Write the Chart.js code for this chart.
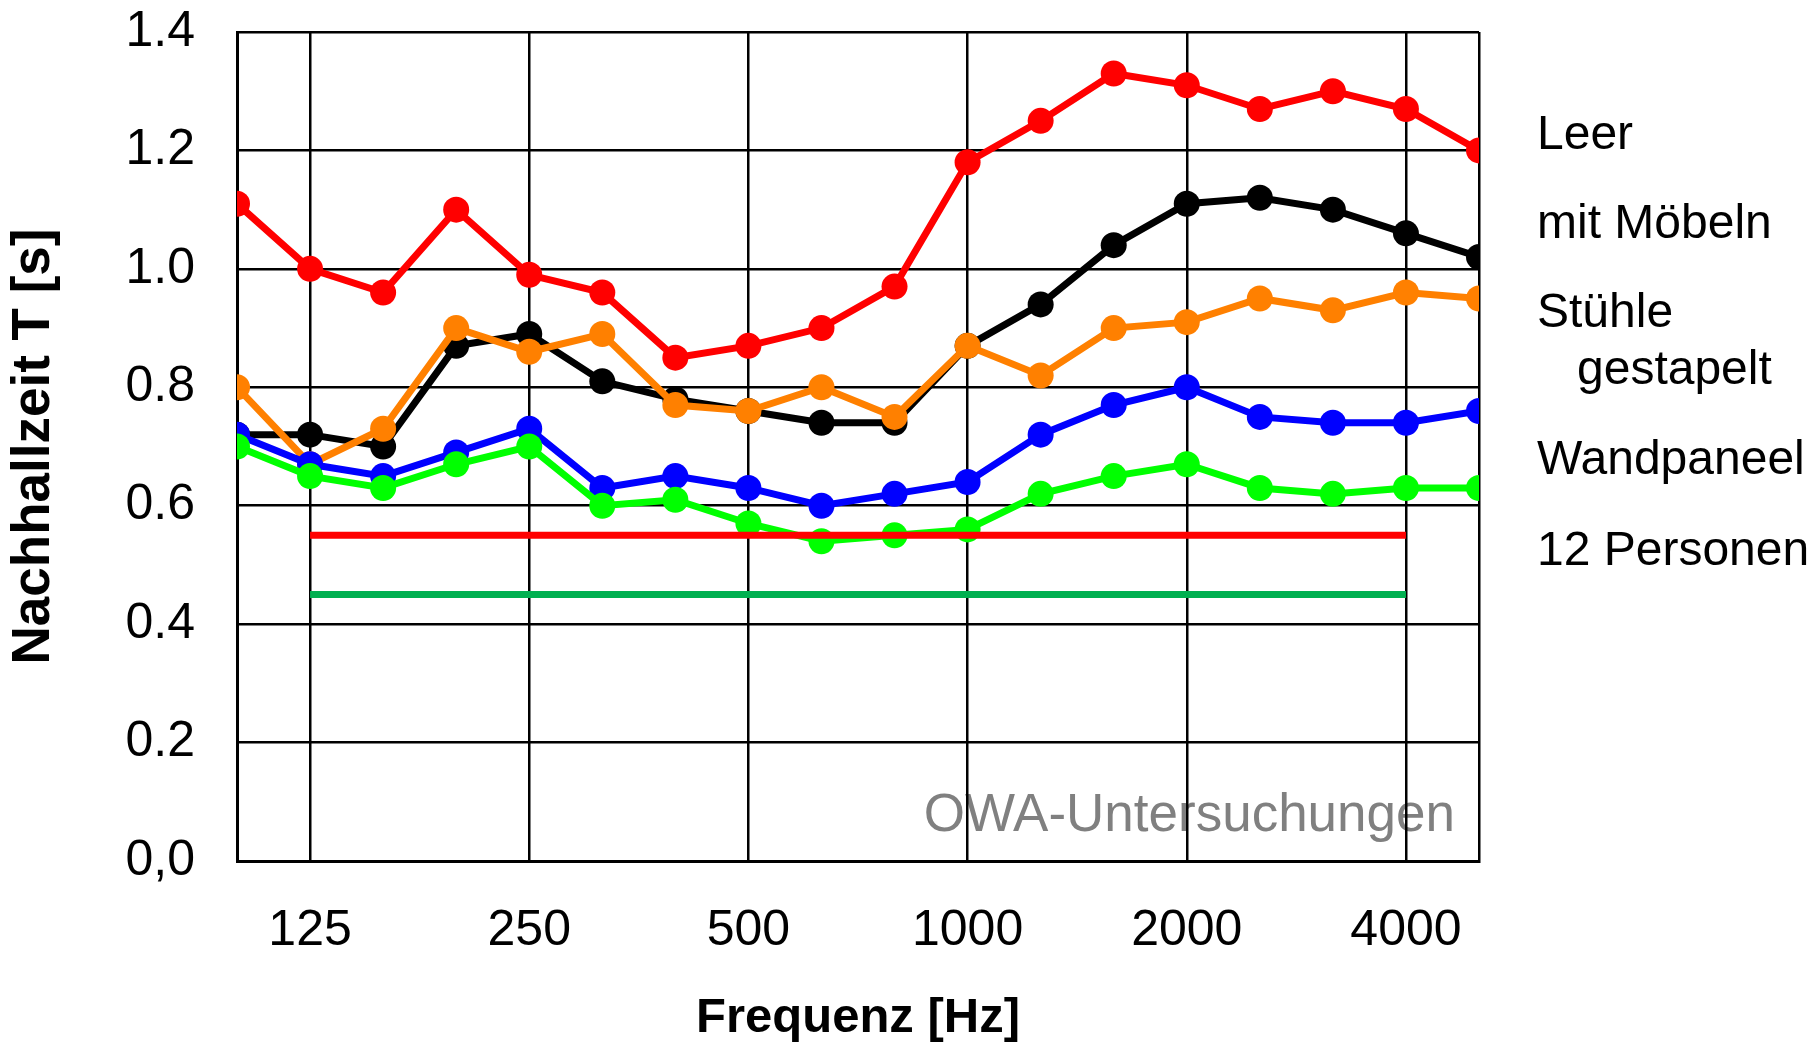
<!DOCTYPE html>
<html>
<head>
<meta charset="utf-8">
<title>Nachhallzeit</title>
<script src="https://cdn.jsdelivr.net/npm/chart.js@4.4.0/dist/chart.umd.min.js"></script>
<style>
  html, body { margin: 0; padding: 0; background: #fff; }
</style>
</head>
<body>
<canvas id="reverbChart" width="1816" height="1053"></canvas>
<script>
// Terzbänder, nur die Oktaven bekommen eine Beschriftung
const frequencies = ['100', '125', '160', '200', '250', '315', '400', '500', '630', '800',
                     '1000', '1250', '1600', '2000', '2500', '3150', '4000', '5000'];
const octaveLabels = ['125', '250', '500', '1000', '2000', '4000'];

// Nachhallzeit T [s]
const leer       = [1.11, 1.00, 0.96, 1.10, 0.99, 0.96, 0.85, 0.87, 0.90, 0.97, 1.18, 1.25, 1.33, 1.31, 1.27, 1.30, 1.27, 1.20];
const mitMoebeln = [0.72, 0.72, 0.70, 0.87, 0.89, 0.81, 0.78, 0.76, 0.74, 0.74, 0.87, 0.94, 1.04, 1.11, 1.12, 1.10, 1.06, 1.02];
const stuehle    = [0.80, 0.67, 0.73, 0.90, 0.86, 0.89, 0.77, 0.76, 0.80, 0.75, 0.87, 0.82, 0.90, 0.91, 0.95, 0.93, 0.96, 0.95];
const wandpaneel = [0.72, 0.67, 0.65, 0.69, 0.73, 0.63, 0.65, 0.63, 0.60, 0.62, 0.64, 0.72, 0.77, 0.80, 0.75, 0.74, 0.74, 0.76];
const personen   = [0.70, 0.65, 0.63, 0.67, 0.70, 0.60, 0.61, 0.57, 0.54, 0.55, 0.56, 0.62, 0.65, 0.67, 0.63, 0.62, 0.63, 0.63];

// Toleranzgrenzen (125 Hz bis 4000 Hz)
const upperLimit = 0.55;
const lowerLimit = 0.45;

const FONT = "'Liberation Sans', Arial, sans-serif";

function series(label, data, color, order) {
  return {
    label: label,
    data: data,
    borderColor: color,
    backgroundColor: color,
    borderWidth: 7,
    pointRadius: 13,
    pointHoverRadius: 13,
    pointBorderWidth: 0,
    tension: 0,
    clip: 0,
    order: order
  };
}

function limitLine(value, color) {
  return {
    label: '',
    data: [{ x: '125', y: value }, { x: '4000', y: value }],
    borderColor: color,
    borderWidth: 7,
    pointRadius: 0,
    order: 0
  };
}

// Beschriftung rechts neben dem Diagramm (ohne Symbole) und Wasserzeichen
const textPlugin = {
  id: 'texts',
  beforeDraw(chart) {
    const ctx = chart.ctx;
    const area = chart.chartArea;
    ctx.save();
    ctx.font = '53px ' + FONT;
    ctx.fillStyle = '#808080';
    ctx.textAlign = 'right';
    ctx.textBaseline = 'alphabetic';
    ctx.fillText('OWA-Untersuchungen', area.right - 24, 831);
    ctx.restore();
  },
  afterDraw(chart) {
    const ctx = chart.ctx;
    const lines = [
      ['Leer', 0, 149],
      ['mit Möbeln', 0, 238],
      ['Stühle', 0, 327],
      ['gestapelt', 40, 384],
      ['Wandpaneel', 0, 474],
      ['12 Personen', 0, 565]
    ];
    ctx.save();
    ctx.font = '48px ' + FONT;
    ctx.fillStyle = '#000';
    ctx.textAlign = 'left';
    ctx.textBaseline = 'alphabetic';
    lines.forEach(l => ctx.fillText(l[0], chart.chartArea.right + 58 + l[1], l[2]));
    ctx.restore();
  }
};

const ctx = document.getElementById('reverbChart').getContext('2d');
new Chart(ctx, {
  type: 'line',
  data: {
    labels: frequencies,
    datasets: [
      limitLine(upperLimit, '#FF0000'),
      limitLine(lowerLimit, '#00B050'),
      series('12 Personen', personen, '#00FF00', 1),
      series('Wandpaneel', wandpaneel, '#0000FF', 2),
      series('Stühle gestapelt', stuehle, '#FF8000', 3),
      series('mit Möbeln', mitMoebeln, '#000000', 4),
      series('Leer', leer, '#FF0000', 5)
    ]
  },
  options: {
    responsive: false,
    animation: false,
    layout: { padding: { left: 0, right: 337, top: 32, bottom: 0 } },
    plugins: {
      legend: { display: false },
      tooltip: { enabled: false }
    },
    scales: {
      x: {
        offset: false,
        afterFit(scale) {
          scale.height = 192;
          scale.paddingLeft = 0;
          scale.paddingRight = 0;
        },
        grid: {
          drawTicks: false,
          lineWidth: 2.5,
          color: c => (octaveLabels.includes(frequencies[c.index]) || c.index === frequencies.length - 1) ? '#000' : 'rgba(0,0,0,0)'
        },
        border: { color: '#000', width: 3 },
        ticks: {
          autoSkip: false,
          maxRotation: 0,
          padding: 40,
          color: '#000',
          font: { family: FONT, size: 50 },
          callback: (value, index) => octaveLabels.includes(frequencies[index]) ? frequencies[index] : ''
        },
        title: {
          display: true,
          text: 'Frequenz [Hz]',
          color: '#000',
          font: { family: FONT, size: 49, weight: 'bold' },
          padding: { top: 0, bottom: 5 }
        }
      },
      y: {
        min: 0,
        max: 1.4,
        afterFit(scale) {
          scale.width = 237;
          scale.paddingTop = 0;
          scale.paddingBottom = 0;
        },
        grid: { drawTicks: false, lineWidth: 2.5, color: '#000' },
        border: { color: '#000', width: 3 },
        ticks: {
          stepSize: 0.2,
          padding: 42,
          color: '#000',
          font: { family: FONT, size: 50 },
          callback: value => value === 0 ? '0,0' : value.toFixed(1)
        },
        title: {
          display: true,
          text: 'Nachhallzeit T [s]',
          color: '#000',
          font: { family: FONT, size: 53, weight: 'bold' },
          padding: { top: 3, bottom: 0 }
        }
      }
    }
  },
  plugins: [textPlugin]
});
</script>
</body>
</html>
